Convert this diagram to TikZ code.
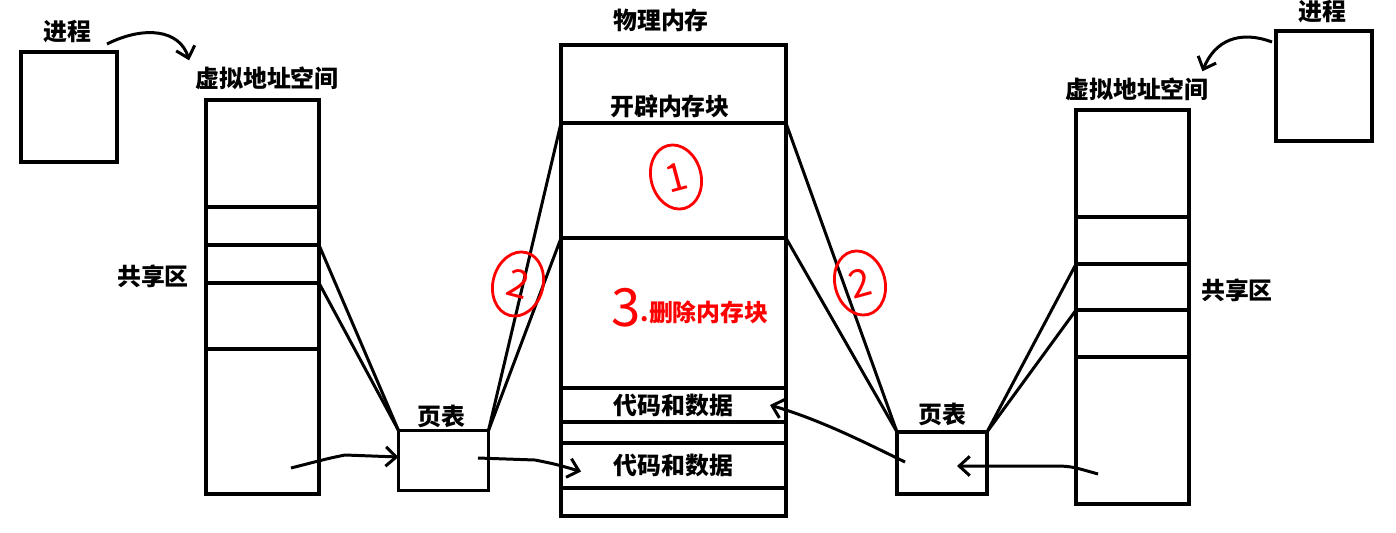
\documentclass[tikz,border=0pt]{standalone}
\usepackage{fontspec}
\setmainfont{Noto Sans CJK SC}
\usepackage{xcolor}
\usepackage{tikz}
\usetikzlibrary{positioning,arrows.meta,shapes.geometric}

\begin{document}
\begin{tikzpicture}[
  x=0.02cm, y=-0.02cm,
  box/.style={draw, line width=1.8pt, inner sep=0pt, outer sep=0pt},
  proc/.style={box, minimum width=1.92cm, minimum height=2.2cm},
  vcol/.style={box, minimum width=2.26cm, minimum height=7.88cm},
  vrow/.style={box, minimum width=2.26cm, minimum height=#1},
  mrow/.style={box, minimum width=4.5cm, minimum height=#1, lbl},
  ptab/.style={box, minimum width=1.8cm, minimum height=1.2cm},
  lbl/.style={font=\fontsize{13.6}{16}\selectfont\bfseries},
  link/.style={line width=1.7pt},
  arr/.style={-{Straight Barb[length=6pt,width=11pt]}, line width=1.7pt},
  redring/.style={draw=red, ellipse, line width=1.6pt, text=red, inner sep=0pt,
    minimum width=1cm, minimum height=1.3cm, font=\fontsize{22}{22}\selectfont}
]
  \useasboundingbox (0,0) rectangle (1396,532);
  \fill[white] (0,0) rectangle (1396,532);

  % ===== LEFT PROCESS =====
  \node[proc] (lproc) at (69,107) {};
  \node[lbl] (lproclbl) at (67,32) {进程};
  \node[lbl] (lval) at (267,78) {虚拟地址空间};
  \node[vcol] (lva) at (262.5,297) {};
  \node[vrow=0.76cm] (lsh1) at (262.5,226) {};
  \node[vrow=0.76cm] (lsh2) at (262.5,264) {};
  \node[vrow=1.32cm] (lsh3) at (262.5,316) {};
  \node[lbl] (lshlbl) at (153,276) {共享区};
  \node[ptab] (lpt) at (443.5,460.5) {};
  \node[lbl] (lptlbl) at (441,416) {页表};

  % ===== PHYSICAL MEMORY =====
  \node[lbl] (memlbl) at (661,20) {物理内存};
  \node[box, minimum width=4.5cm, minimum height=9.42cm] (mem) at (673.5,280.5) {};
  \node[lbl] (blklbl) at (670,106) {开辟内存块};
  \node[mrow=2.3cm] (blk) at (673.5,180.5) {};
  \node[mrow=3cm] (del) at (673.5,313) {};
  \node[mrow=0.68cm] (code1) at (673.5,405) {代码和数据};
  \node[mrow=0.9cm] (code2) at (673.5,465.5) {代码和数据};

  % ===== RIGHT PROCESS =====
  \node[ptab, minimum height=1.24cm] (rpt) at (942,463) {};
  \node[lbl] (rptlbl) at (942,414) {页表};
  \node[vcol] (rva) at (1132.5,307) {};
  \node[vrow=0.94cm] (rsh1) at (1132.5,240.5) {};
  \node[vrow=0.92cm] (rsh2) at (1132.5,287) {};
  \node[vrow=0.94cm] (rsh3) at (1132.5,333.5) {};
  \node[lbl] (rshlbl) at (1237,290) {共享区};
  \node[lbl] (rval) at (1137,89) {虚拟地址空间};
  \node[proc] (rproc) at (1324,86) {};
  \node[lbl] (rproclbl) at (1322,12) {进程};

  % mapping lines
  \draw[link] (lsh2.north east) -- (lpt.north west);
  \draw[link] (lsh3.north east) -- (lpt.north west);
  \draw[link] (lpt.north east) -- (blk.north west);
  \draw[link] (lpt.north east) -- (del.north west);
  \draw[link] (blk.north east) -- (rpt.north west);
  \draw[link] (del.north east) -- (rpt.north west);
  \draw[link] (rpt.north east) -- (rsh2.north west);
  \draw[link] (rpt.north east) -- (rsh3.north west);

  % arrows
  \coordinate (lp0) at (107,44);
  \coordinate (rp0) at (1272,42);
  \coordinate (la0) at (291,468);
  \coordinate (lb0) at (478,458);
  \coordinate (rb0) at (905,462);
  \coordinate (ra0) at (1098,474);
  \draw[arr] (lp0) .. controls (145,25) and (180,30) .. (lval.north west);
  \draw[arr] (rp0) .. controls (1240,30) and (1215,40) .. ([xshift=-0.25cm]rval.north east);
  \draw[arr] (la0) .. controls (330,458) .. (345,455) -- ([yshift=2pt]lpt.west);
  \draw[arr] (lb0) -- (535,460) .. controls (555,464) .. ([xshift=0.4cm,yshift=-0.12cm]code2.west);
  \draw[arr] (rb0) .. controls (860,440) and (820,420) .. ([xshift=-0.32cm]code1.east);
  \draw[arr] (ra0) .. controls (1070,466) .. (1050,466) -- ([xshift=0.3cm,yshift=-0.06cm]rpt.center);

  % red notes
  \node[redring, rotate=15] (c1) at (676,177) {1};
  \node[redring, rotate=-15] (c2l) at (518,284) {2};
  \node[redring, rotate=15] (c2r) at (860,283) {2};
  \node[lbl, text=red] (step3) at (690,308) {{\mdseries\fontsize{30}{30}\selectfont\raisebox{-3pt}{3}}.删除内存块};
\end{tikzpicture}
\end{document}
